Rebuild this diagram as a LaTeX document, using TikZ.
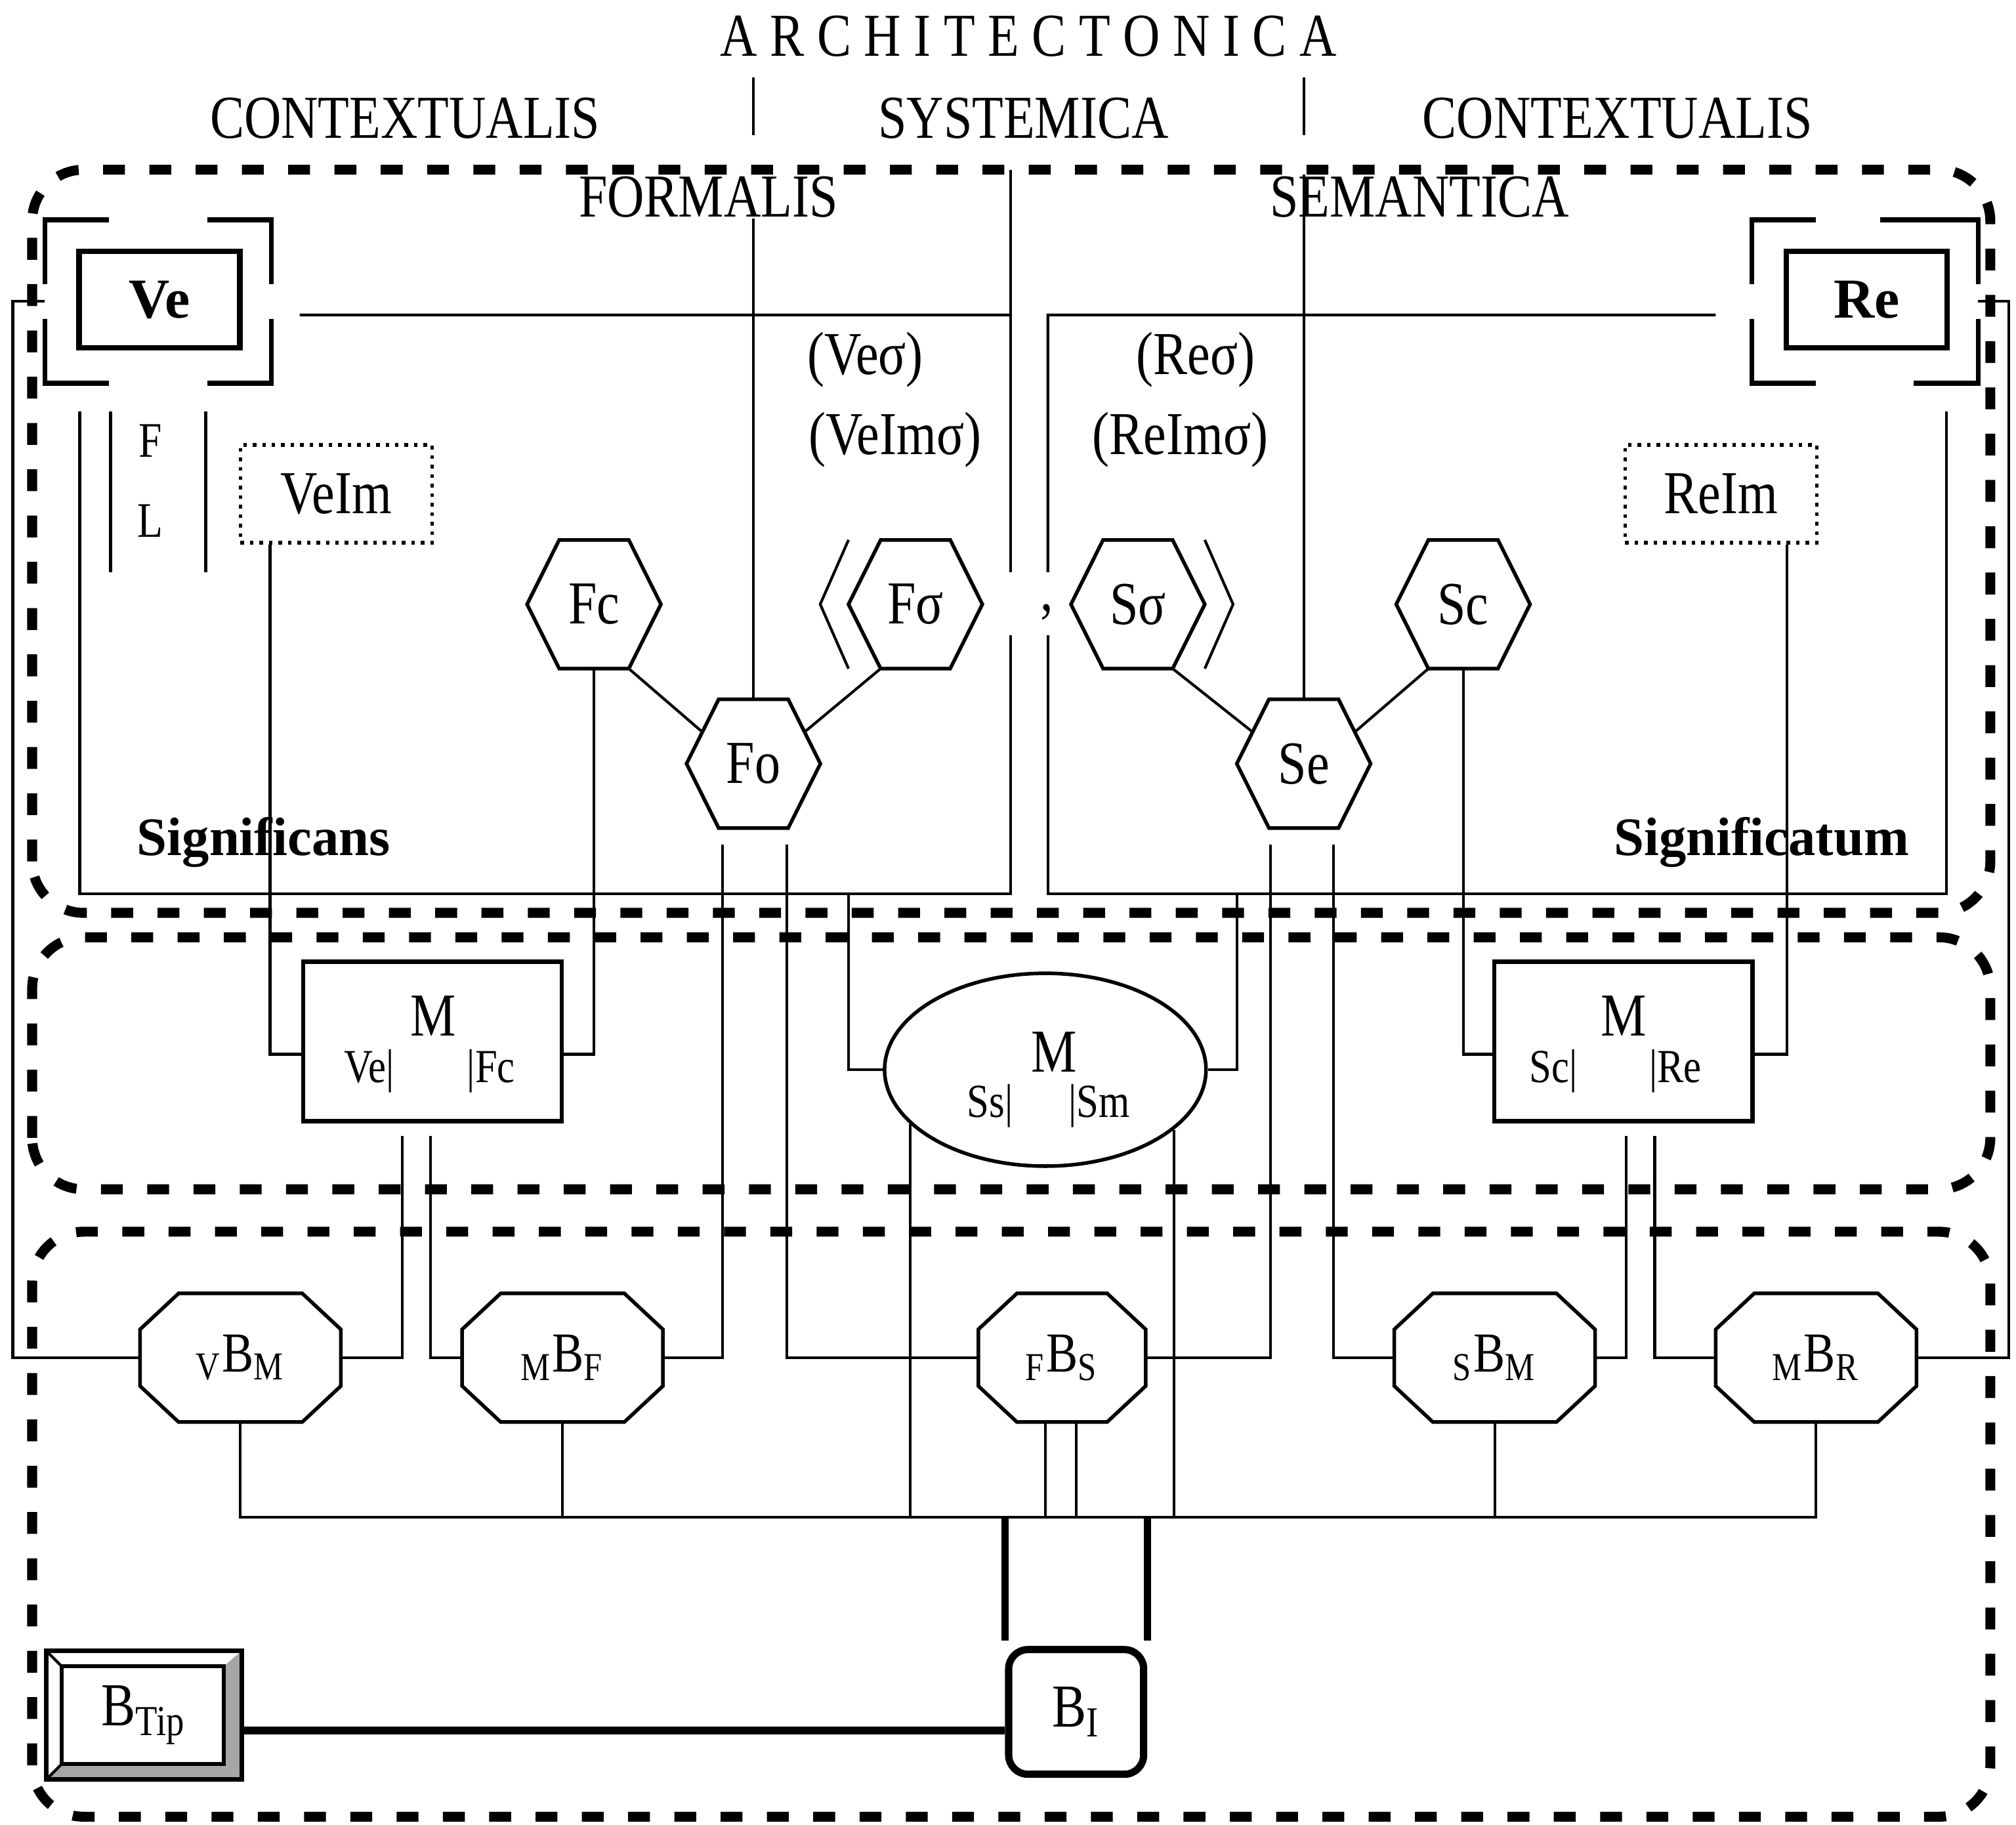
\documentclass[tikz,border=0pt]{standalone}
\usepackage{fontspec}
\setmainfont{Liberation Serif}
\newfontfamily\narrowserif[FakeStretch=0.84]{Liberation Serif}
\usetikzlibrary{calc, shapes.geometric}

\begin{document}
\begin{tikzpicture}[
    line width=0.6pt,
    txt/.style={inner sep=0pt, font=\narrowserif\fontsize{13.5}{15}\selectfont},
    smalltxt/.style={inner sep=0pt, font=\narrowserif\fontsize{10.5}{12}\selectfont},
    boldtxt/.style={inner sep=0pt, font=\bfseries\fontsize{12}{14}\selectfont},
    region/.style={draw, line width=2.2pt, dash pattern=on 0.17cm off 0.19cm,
                   rounded corners=0.4cm},
    hexnode/.style={txt, minimum width=1.02cm, minimum height=0.98cm},
    octnode/.style={inner sep=0pt, font=\narrowserif\fontsize{12.5}{14}\selectfont,
                    minimum width=1.54cm, minimum height=0.98cm},
    mbox/.style={draw, line width=0.9pt, minimum width=2.01cm, minimum height=1.24cm},
    imbox/.style={txt, draw, line width=0.8pt, dash pattern=on 0.8pt off 1.3pt,
                  minimum width=1.49cm, minimum height=0.76cm},
    corebox/.style={draw, line width=1.2pt, inner sep=0pt,
                    font=\bfseries\fontsize{12.5}{14}\selectfont,
                    minimum width=1.25cm, minimum height=0.75cm},
    frame/.style={minimum width=1.74cm, minimum height=1.25cm, inner sep=0pt}
  ]
  \useasboundingbox (0,0) rectangle (15.68,14.19);

  % Regions
  \draw[region] (0.25,7.09) rectangle (15.48,12.87);
  \draw[region] (0.25,4.94) rectangle (15.48,6.90);
  \draw[region] (0.25,0.06) rectangle (15.48,4.61);

  % Headings
  \node[txt] (arch) at (8.00,13.91) {A R C H I T E C T O N I C A};
  \node[txt] (ctxl) at (3.15,13.27) {CONTEXTUALIS};
  \node[txt] (syst) at (7.96,13.27) {SYSTEMICA};
  \node[txt] (ctxr) at (12.58,13.27) {CONTEXTUALIS};
  \draw (5.86,13.59) -- (5.86,13.14);
  \draw (10.14,13.59) -- (10.14,13.14);
  \node[txt] (formalis) at (5.51,12.66) {FORMALIS};
  \node[txt] (semantica) at (11.04,12.66) {SEMANTICA};

  % Ve and Re with their brackets
  \node[corebox] (ve) at (1.24,11.86) {Ve};
  \node[frame] (vefr) at (1.23,11.845) {};
  \node[corebox] (re) at (14.52,11.86) {Re};
  \node[frame] (refr) at (14.505,11.845) {};
  \foreach \f/\tr in {vefr/0.5, refr/0.76} {
    \draw[line width=1.1pt] ([yshift=-0.5cm]\f.north west) -- (\f.north west)
      -- ([xshift=0.5cm]\f.north west);
    \draw[line width=1.1pt] ([xshift=-\tr cm]\f.north east) -- (\f.north east)
      -- ([yshift=-0.5cm]\f.north east);
    \draw[line width=1.1pt] ([yshift=0.5cm]\f.south west) -- (\f.south west)
      -- ([xshift=0.5cm]\f.south west);
    \draw[line width=1.1pt] ([xshift=-0.5cm]\f.south east) -- (\f.south east)
      -- ([yshift=0.5cm]\f.south east);
  }

  % Significans / Significatum frames
  \draw ($(vefr.east)+(0.22,-0.105)$) -- (7.86,11.74);
  \draw (7.86,12.87) -- (7.86,9.74);
  \draw (7.86,9.25) -- (7.86,7.24) -- (0.62,7.24) -- (0.62,10.99);
  \draw (0.86,10.99) -- (0.86,9.74);
  \draw (1.60,10.99) -- (1.60,9.74);
  \draw ($(refr.west)+(-0.28,-0.105)$) -- (8.15,11.74) -- (8.15,9.74);
  \draw (8.15,9.25) -- (8.15,7.24) -- (15.14,7.24) -- (15.14,10.99);

  \node[txt, font=\narrowserif\fontsize{11}{12}\selectfont] (flf) at (1.17,10.76) {F};
  \node[txt, font=\narrowserif\fontsize{11}{12}\selectfont] (fll) at (1.17,10.14) {L};
  \node[imbox] (veim) at (2.615,10.35) {VeIm};
  \node[imbox] (reim) at (13.385,10.35) {ReIm};

  \node[txt] (vesig) at (6.73,11.39) {(Veσ)};
  \node[txt] (veimsig) at (6.96,10.77) {(VeImσ)};
  \node[txt] (resig) at (9.30,11.39) {(Reσ)};
  \node[txt] (reimsig) at (9.18,10.77) {(ReImσ)};
  \node[txt] (comma) at (8.14,9.43) {,};

  % Hexagons
  \node[hexnode] (fc) at (4.62,9.49) {Fc};
  \node[hexnode] (fsig) at (7.12,9.49) {Fσ};
  \node[hexnode] (ssig) at (8.85,9.49) {Sσ};
  \node[hexnode] (sc) at (11.38,9.49) {Sc};
  \node[hexnode] (fo) at (5.86,8.25) {Fo};
  \node[hexnode] (se) at (10.14,8.25) {Se};
  \foreach \h in {fc,fsig,ssig,sc,fo,se}
    \draw[line width=0.8pt] (\h.west) -- ([xshift=0.25cm]\h.north west)
      -- ([xshift=-0.25cm]\h.north east) -- (\h.east)
      -- ([xshift=-0.25cm]\h.south east) -- ([xshift=0.25cm]\h.south west) -- cycle;
  \draw (fsig.north west) -- ([xshift=-0.22cm]fsig.west) -- (fsig.south west);
  \draw (ssig.north east) -- ([xshift=0.22cm]ssig.east) -- (ssig.south east);

  \node[boldtxt] (sgns) at (2.05,7.64) {Significans};
  \node[boldtxt] (sgtm) at (13.70,7.64) {Significatum};

  % M nodes
  \node[mbox] (mleft) at (3.365,6.09) {};
  \node[txt] (mleftm) at (3.37,6.29) {M};
  \node[smalltxt] (mleftve) at (2.87,5.86) {Ve|};
  \node[smalltxt] (mleftfc) at (3.82,5.86) {|Fc};
  \node[mbox] (mright) at (12.625,6.09) {};
  \node[txt] (mrightm) at (12.63,6.29) {M};
  \node[smalltxt] (mrightsc) at (12.08,5.86) {Sc|};
  \node[smalltxt] (mrightre) at (13.03,5.86) {|Re};
  \node[draw, ellipse, line width=0.8pt, inner sep=0pt, minimum width=2.5cm,
        minimum height=1.5cm] (mcore) at (8.13,5.87) {};
  \node[txt] (mcorem) at (8.20,6.01) {M};
  \node[smalltxt] (mcoress) at (7.70,5.59) {Ss|};
  \node[smalltxt] (mcoresm) at (8.55,5.59) {|Sm};

  % Octagons
  \node[octnode] (vbm) at (1.87,3.63) {\textsubscript{V}B\textsubscript{M}};
  \node[octnode] (mbf) at (4.375,3.63) {\textsubscript{M}B\textsubscript{F}};
  \node[octnode, minimum width=1.28cm] (fbs) at (8.26,3.63) {\textsubscript{F}B\textsubscript{S}};
  \node[octnode] (sbm) at (11.625,3.63) {\textsubscript{S}B\textsubscript{M}};
  \node[octnode] (mbr) at (14.125,3.63) {\textsubscript{M}B\textsubscript{R}};
  \foreach \o in {vbm,mbf,fbs,sbm,mbr}
    \draw[line width=0.8pt] ([xshift=0.3cm]\o.north west) -- ([xshift=-0.3cm]\o.north east)
      -- ([yshift=-0.28cm]\o.north east) -- ([yshift=0.28cm]\o.south east)
      -- ([xshift=-0.3cm]\o.south east) -- ([xshift=0.3cm]\o.south west)
      -- ([yshift=0.28cm]\o.south west) -- ([yshift=-0.28cm]\o.north west) -- cycle;

  % B nodes
  \node[txt, draw, line width=1.6pt, rounded corners=0.15cm, minimum width=1.05cm,
        minimum height=0.97cm] (bi) at (8.37,0.875) {B\textsubscript{I}};
  \node[txt, minimum width=1.5cm, minimum height=0.98cm] (btip) at (1.12,0.85)
    {B\textsubscript{Tip}\hspace{0.22cm}};
  \fill[gray!70] (btip.south east) -- ([xshift=-0.14cm,yshift=0.12cm]btip.south east)
    -- ([xshift=-0.14cm,yshift=-0.12cm]btip.north east) -- (btip.north east) -- cycle;
  \fill[gray!70] (btip.south west) -- ([xshift=0.12cm,yshift=0.12cm]btip.south west)
    -- ([xshift=-0.14cm,yshift=0.12cm]btip.south east) -- (btip.south east) -- cycle;
  \draw[line width=1pt] (btip.south west) rectangle (btip.north east);
  \draw[line width=0.8pt] ([xshift=0.12cm,yshift=0.12cm]btip.south west)
    rectangle ([xshift=-0.14cm,yshift=-0.12cm]btip.north east);
  \draw (btip.north west) -- ([xshift=0.12cm,yshift=-0.12cm]btip.north west);
  \draw (btip.south west) -- ([xshift=0.12cm,yshift=0.12cm]btip.south west);

  % Connectors
  \draw (vefr.west) -- ++(-0.25,0) |- (vbm.west);
  \draw (refr.east) -- ++(0.24,0) |- (mbr.east);
  \draw (fo.north |- formalis.south) -- (fo.north);
  \draw (se.north |- semantica.north) -- (se.north);

  \draw ([xshift=-0.25cm]fc.south east) -- ([xshift=0.125cm,yshift=0.245cm]fo.west);
  \draw ([xshift=0.25cm]fsig.south west) -- ([xshift=-0.125cm,yshift=0.245cm]fo.east);
  \draw ([xshift=-0.25cm]ssig.south east) -- ([xshift=0.125cm,yshift=0.245cm]se.west);
  \draw ([xshift=0.25cm]sc.south west) -- ([xshift=-0.125cm,yshift=0.245cm]se.east);

  \draw ([xshift=-0.515cm]veim.south) |- ([yshift=-0.1cm]mleft.west);
  \draw (fc.south) |- ([yshift=-0.1cm]mleft.east);
  \draw (sc.south) |- ([yshift=-0.1cm]mright.west);
  \draw ([xshift=0.515cm]reim.south) |- ([yshift=-0.1cm]mright.east);
  \coordinate (sgnsfoot) at (6.60,7.24);
  \coordinate (sgtmfoot) at (9.62,7.24);
  \draw (sgnsfoot) |- (mcore.west);
  \draw (sgtmfoot) |- (mcore.east);

  \draw ([xshift=-0.235cm,yshift=-0.1cm]mleft.south) |- (vbm.east);
  \draw ([xshift=-0.015cm,yshift=-0.1cm]mleft.south) |- (mbf.west);
  \draw ([xshift=0.025cm,yshift=-0.1cm]mright.south) |- (sbm.east);
  \draw ([xshift=0.245cm,yshift=-0.1cm]mright.south) |- (mbr.west);
  \draw ([xshift=-0.24cm,yshift=-0.13cm]fo.south) |- (mbf.east);
  \draw ([xshift=0.26cm,yshift=-0.13cm]fo.south) |- (fbs.west);
  \draw ([xshift=-0.26cm,yshift=-0.13cm]se.south) |- (fbs.east);
  \draw ([xshift=0.23cm,yshift=-0.13cm]se.south) |- (sbm.west);

  % Bus
  \coordinate (bus) at (0,2.39);
  \draw (vbm.south) |- (mbr.south |- bus) -- (mbr.south);
  \foreach \o in {mbf,sbm}
    \draw (\o.south) -- (\o.south |- bus);
  \draw ([xshift=-0.13cm]fbs.south) -- ([xshift=-0.13cm]fbs.south |- bus);
  \draw ([xshift=0.11cm]fbs.south) -- ([xshift=0.11cm]fbs.south |- bus);
  \draw (mcore.202) -- (mcore.202 |- bus);
  \draw (mcore.335) -- (mcore.335 |- bus);

  \draw[line width=1.6pt] (bi.north west |- bus) -- ([yshift=0.04cm]bi.north west);
  \draw[line width=1.6pt] (bi.north east |- bus) -- ([yshift=0.04cm]bi.north east);
  \draw[line width=1.8pt] ([yshift=-0.12cm]btip.east) -- ([yshift=-0.12cm]btip.east -| bi.west);
\end{tikzpicture}
\end{document}
